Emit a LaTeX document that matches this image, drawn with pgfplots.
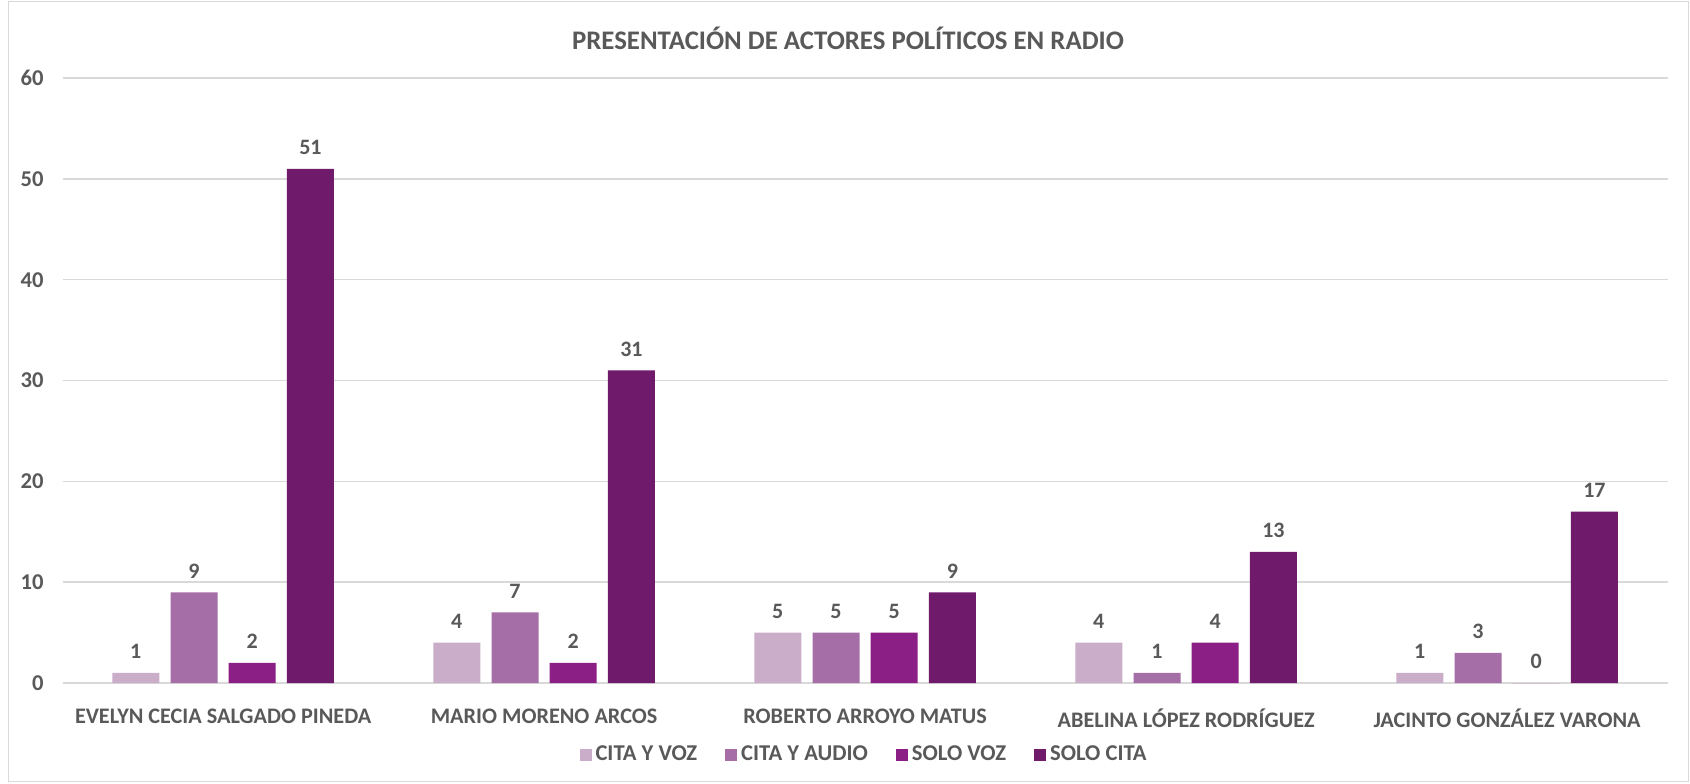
\documentclass[border=0pt]{standalone}
\usepackage{fontspec}
\setmainfont{Carlito}
\usepackage{pgfplots}
\pgfplotsset{compat=1.18}

\definecolor{txtgray}{HTML}{595959}
\definecolor{gridgray}{HTML}{D9D9D9}
\definecolor{cvoz}{HTML}{C9ADC9}
\definecolor{caudio}{HTML}{A66EA6}
\definecolor{svoz}{HTML}{8B1F85}
\definecolor{scita}{HTML}{701A6C}

\begin{document}
\begin{tikzpicture}[x=1pt,y=1pt]
% page box and chart frame, 1px = 0.5pt
\path (0,0) rectangle (845,391.5);
\draw[gridgray, fill=white] (4,1) rectangle (844.3,391);
\node[font=\bfseries\fontsize{13.4}{16}\selectfont, text=txtgray] at (424,372.5) {PRESENTACIÓN DE ACTORES POLÍTICOS EN RADIO};
\begin{axis}[
  at={(31.3pt,50pt)}, anchor=south west,
  scale only axis,
  width=802.5pt, height=302.5pt,
  ybar=5.6pt, bar width=23.5pt,
  xmin=-0.5, xmax=4.5,
  ymin=0, ymax=60,
  ytick={0,10,...,60},
  xtick=data,
  xticklabels={EVELYN CECIA SALGADO PINEDA, MARIO MORENO ARCOS, ROBERTO ARROYO MATUS, ABELINA LÓPEZ RODRÍGUEZ, JACINTO GONZÁLEZ VARONA},
  axis line style={draw=none},
  tick style={draw=none},
  ymajorgrids, grid style={gridgray, line width=0.8pt},
  extra y ticks={0}, extra y tick labels={},
  extra y tick style={grid style={gridgray, line width=1pt}},
  /pgf/number format/assume math mode=true,
  yticklabel style={font=\bfseries\fontsize{11.3}{13}\selectfont, text=txtgray, xshift=-6pt},
  xticklabel style={font=\bfseries\fontsize{11.1}{13}\selectfont, text=txtgray, yshift=-5pt},
  nodes near coords,
  every node near coord/.append style={font=\bfseries\fontsize{11}{13}\selectfont, text=txtgray, yshift=3.5pt},
  legend style={at={(0.5,-0.119)}, anchor=center, draw=none, fill=none, legend columns=4,
    font=\bfseries\fontsize{11.3}{13}\selectfont, text=txtgray,
    /tikz/every even column/.append style={column sep=12pt}},
  legend image code/.code={\fill[#1] (0pt,-3pt) rectangle (6pt,3pt);},
]
\addplot[fill=cvoz, draw=none] coordinates {(0,1) (1,4) (2,5) (3,4) (4,1)};
\addplot[fill=caudio, draw=none] coordinates {(0,9) (1,7) (2,5) (3,1) (4,3)};
\addplot[fill=svoz, draw=none] coordinates {(0,2) (1,2) (2,5) (3,4) (4,0)};
\addplot[fill=scita, draw=none] coordinates {(0,51) (1,31) (2,9) (3,13) (4,17)};
\legend{CITA Y VOZ, CITA Y AUDIO, SOLO VOZ, SOLO CITA}
\end{axis}
\end{tikzpicture}
\end{document}
